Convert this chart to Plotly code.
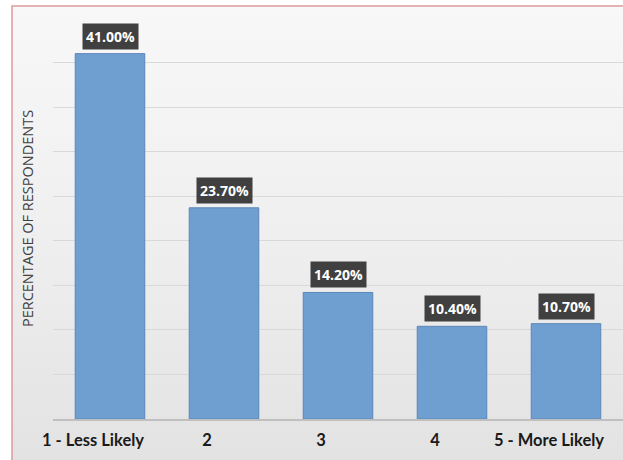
import plotly.graph_objects as go

categories = ["1 - Less Likely", "2", "3", "4", "5 - More Likely"]
values = [41.0, 23.7, 14.2, 10.4, 10.7]
label_texts = ["41.00%", "23.70%", "14.20%", "10.40%", "10.70%"]
y_title = "PERCENTAGE OF RESPONDENTS"

fig = go.Figure()
fig.add_trace(go.Bar(
    x=categories, y=values,
    marker=dict(color="#6f9fd0", line=dict(color="#5a86b8", width=1)),
    hoverinfo="skip",
))

for i, (v, t) in enumerate(zip(values, label_texts)):
    fig.add_annotation(
        x=i, y=v, text="<b>" + t + "</b>", showarrow=False,
        yanchor="bottom", yshift=4,
        bgcolor="#404040", borderpad=3,
        font=dict(family="Open Sans", size=14, color="white"),
    )

# gradient background
svg = ("data:image/svg+xml;utf8,<svg xmlns='http://www.w3.org/2000/svg' width='10' height='100' preserveAspectRatio='none'>"
       "<defs><linearGradient id='g' x1='0' y1='0' x2='0' y2='1'>"
       "<stop offset='0' stop-color='%23f8f8f8'/><stop offset='0.5' stop-color='%23efefef'/>"
       "<stop offset='1' stop-color='%23e2e2e2'/></linearGradient></defs>"
       "<rect width='10' height='100' fill='url(%23g)'/></svg>")
x0p = (12 - 53) / 570
x1p = (640 - 53) / 570
y1p = (419 - 6) / 401
y0p = (419 - 470) / 401
fig.add_layout_image(dict(source=svg, xref="paper", yref="paper", x=x0p, y=y1p,
                          sizex=x1p - x0p, sizey=y1p - y0p, sizing="stretch",
                          xanchor="left", yanchor="top", layer="below"))
fig.add_shape(type="rect", xref="paper", yref="paper", x0=x0p, x1=x1p, y0=y0p, y1=y1p,
              line=dict(color="#dd9a9a", width=1.5), fillcolor="rgba(0,0,0,0)", layer="above")

fig.update_layout(
    width=623, height=460,
    margin=dict(l=53, r=0, t=18, b=41),
    paper_bgcolor="white", plot_bgcolor="rgba(0,0,0,0)",
    bargap=0.39, showlegend=False,
    font=dict(family="Lato", color="#1a1a1a"),
)
fig.update_xaxes(
    showgrid=False, showline=True, linecolor="#bfbfbf", linewidth=1.5,
    ticks="", tickfont=dict(family="Lato", size=16.5, color="#1a1a1a", weight="bold"),
    ticklabelshift=-17, ticklabelstandoff=5,
)
fig.update_yaxes(
    range=[0, 45], dtick=5, showticklabels=False, showgrid=True,
    gridcolor="#d9d9d9", gridwidth=1, zeroline=False, ticks="",
    title=dict(text=y_title, font=dict(family="Open Sans", size=14.5, color="#404040"), standoff=14),
)

fig.write_html("out.html")
